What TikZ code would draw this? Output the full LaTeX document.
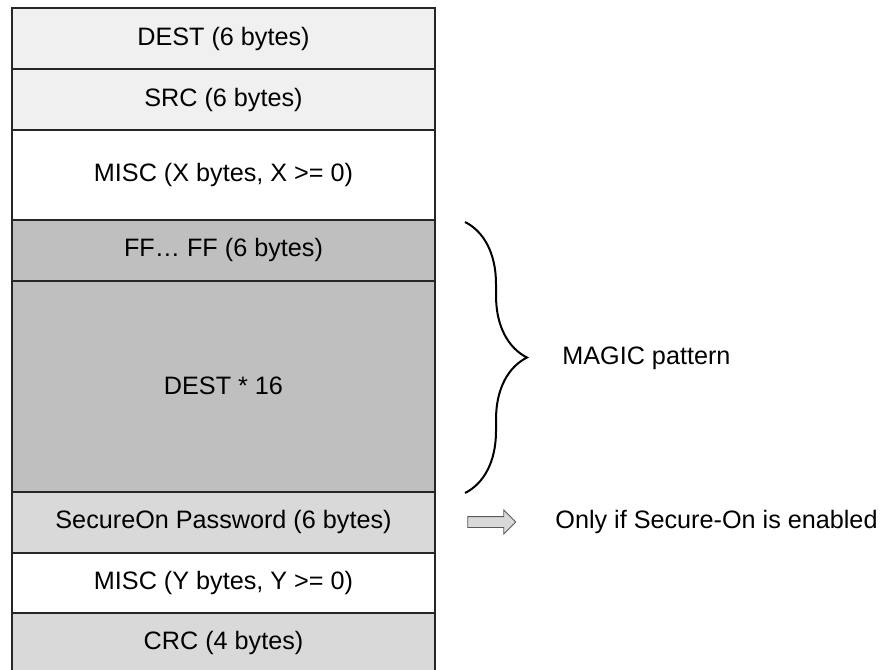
\documentclass[tikz,border=0pt]{standalone}
\usepackage{fontspec}
\setmainfont{Liberation Sans}
\usetikzlibrary{shapes.arrows,decorations.pathreplacing}

\begin{document}
\begin{tikzpicture}[x=0.5pt,y=-0.5pt,
		field/.style={draw=black!85, line width=1pt, minimum width=211.5pt, inner sep=0pt, font=\fontsize{12.6}{15}\selectfont},
		note/.style={anchor=west, inner sep=0pt, font=\fontsize{12.6}{15}\selectfont}]
		\useasboundingbox (0,0) rectangle (881,669);
		\node[field, fill=black!6, minimum height=30.5pt] (dest) at (223.5,38.5) {DEST (6 bytes)};
		\node[field, fill=black!6, minimum height=30.5pt] (src) at (223.5,99.5) {SRC (6 bytes)};
		\node[field, fill=white, minimum height=44.75pt] (miscx) at (223.5,174.75) {MISC (X bytes, X >= 0)};
		\node[field, fill=black!25, minimum height=30.5pt] (ff) at (223.5,250) {FF\ldots\ FF (6 bytes)};
		\node[field, fill=black!25, minimum height=105.75pt] (dest16) at (223.5,386.25) {DEST * 16};
		\node[field, fill=black!15, minimum height=30.35pt] (pwd) at (223.5,522.35) {SecureOn Password (6 bytes)};
		\node[field, fill=white, minimum height=30pt] (miscy) at (223.5,582.7) {MISC (Y bytes, Y >= 0)};
		\node[field, fill=black!15, minimum height=30.5pt] (crc) at (223.5,643.2) {CRC (4 bytes)};
		\coordinate (magictop) at (465,222);
		\coordinate (magicbot) at (465,493);
		\draw[line width=1pt, decorate, decoration={brace, amplitude=31pt}] (magictop) -- (magicbot);
		\node[note] (magic) at (562,358) {MAGIC pattern};
		\node[single arrow, draw=black!65, fill=black!15, line width=0.4pt, inner sep=2.5pt, minimum height=24pt, single arrow head extend=3.25pt] (onlyarrow) at (489,522) {};
		\node[note] (secure) at (555,522) {Only if Secure-On is enabled};
	\end{tikzpicture}
\end{document}
